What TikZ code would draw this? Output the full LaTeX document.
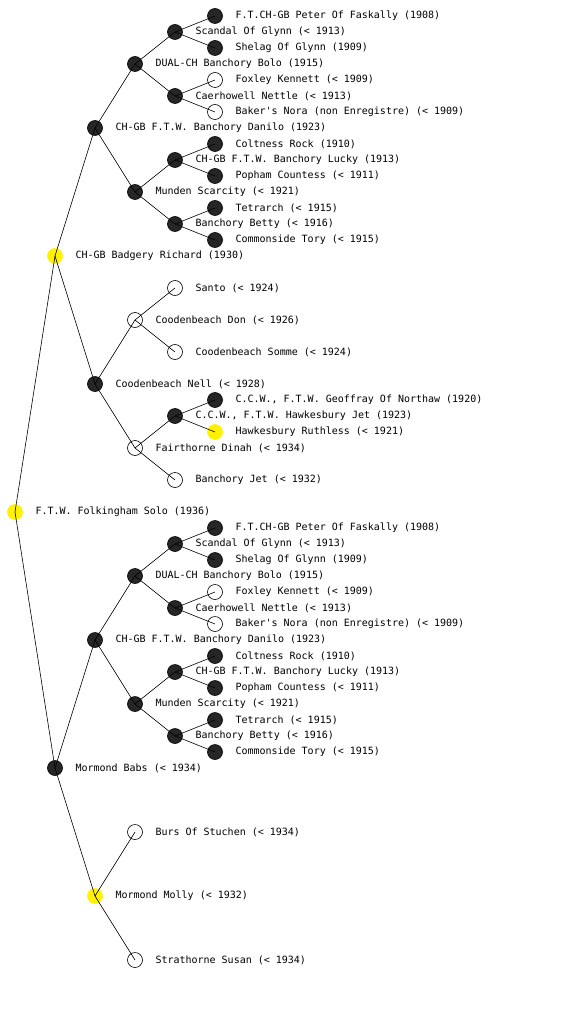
\documentclass[tikz,border=0pt]{standalone}
\usepackage{fontspec}
\newfontfamily\pedfont{DejaVu Sans Mono}

% one dog of the pedigree: style, name, x, y, text
\newcommand\dog[5]{\node[#1,label={right:{#5}}] (#2) at (#3,#4) {};}

% the Danilo branch appears twice
\newcommand\danilotree[2]{%
  \begin{scope}[yshift=#2]
    \dog{blk}{#1dan}{95}{128}{CH-GB F.T.W. Banchory Danilo (1923)}
    \dog{blk}{#1bolo}{135}{64}{DUAL-CH Banchory Bolo (1915)}
    \dog{blk}{#1scan}{175}{32}{Scandal Of Glynn (< 1913)}
    \dog{blk}{#1pete}{215}{16}{F.T.CH-GB Peter Of Faskally (1908)}
    \dog{blk}{#1shel}{215}{48}{Shelag Of Glynn (1909)}
    \dog{blk}{#1nett}{175}{96}{Caerhowell Nettle (< 1913)}
    \dog{opn}{#1foxl}{215}{80}{Foxley Kennett (< 1909)}
    \dog{opn}{#1nora}{215}{112}{Baker's Nora (non Enregistre) (< 1909)}
    \dog{blk}{#1mund}{135}{192}{Munden Scarcity (< 1921)}
    \dog{blk}{#1luck}{175}{160}{CH-GB F.T.W. Banchory Lucky (1913)}
    \dog{blk}{#1colt}{215}{144}{Coltness Rock (1910)}
    \dog{blk}{#1poph}{215}{176}{Popham Countess (< 1911)}
    \dog{blk}{#1bett}{175}{224}{Banchory Betty (< 1916)}
    \dog{blk}{#1tetr}{215}{208}{Tetrarch (< 1915)}
    \dog{blk}{#1tory}{215}{240}{Commonside Tory (< 1915)}
    \foreach \a/\b in {dan/bolo,dan/mund,bolo/scan,bolo/nett,scan/pete,scan/shel,
      nett/foxl,nett/nora,mund/luck,mund/bett,luck/colt,luck/poph,bett/tetr,bett/tory}
      \draw[edge] (#1\a.center) -- (#1\b.center);
  \end{scope}}

\begin{document}
\begin{tikzpicture}[x=1pt,y=-1pt,label distance=12.5pt,
  dog/.style={circle,minimum size=15pt,inner sep=0pt,draw=black,line width=0.6pt},
  blk/.style={dog,fill=black!85},
  opn/.style={dog},
  ylw/.style={dog,draw=yellow,fill=yellow},
  edge/.style={line width=0.6pt},
  every label/.style={font=\pedfont\fontsize{10}{12}\selectfont,inner sep=0pt}]
  \useasboundingbox (0,0) rectangle (560,1024);

  \dog{ylw}{solo}{15}{512}{F.T.W. Folkingham Solo (1936)}
  % sire side
  \dog{ylw}{rich}{55}{256}{CH-GB Badgery Richard (1930)}
  \danilotree{s}{0pt}
  \dog{blk}{nell}{95}{384}{Coodenbeach Nell (< 1928)}
  \dog{opn}{don}{135}{320}{Coodenbeach Don (< 1926)}
  \dog{opn}{sant}{175}{288}{Santo (< 1924)}
  \dog{opn}{somm}{175}{352}{Coodenbeach Somme (< 1924)}
  \dog{opn}{dina}{135}{448}{Fairthorne Dinah (< 1934)}
  \dog{blk}{hjet}{175}{416}{C.C.W., F.T.W. Hawkesbury Jet (1923)}
  \dog{blk}{geof}{215}{400}{C.C.W., F.T.W. Geoffray Of Northaw (1920)}
  \dog{ylw}{ruth}{215}{432}{Hawkesbury Ruthless (< 1921)}
  \dog{opn}{bjet}{175}{480}{Banchory Jet (< 1932)}
  % dam side
  \dog{blk}{babs}{55}{768}{Mormond Babs (< 1934)}
  \danilotree{d}{-512pt}
  \dog{ylw}{moll}{95}{896}{Mormond Molly (< 1932)}
  \dog{opn}{burs}{135}{832}{Burs Of Stuchen (< 1934)}
  \dog{opn}{susa}{135}{960}{Strathorne Susan (< 1934)}

  \foreach \a/\b in {solo/rich,solo/babs,rich/sdan,rich/nell,nell/don,nell/dina,
    don/sant,don/somm,dina/hjet,dina/bjet,hjet/geof,hjet/ruth,
    babs/ddan,babs/moll,moll/burs,moll/susa}
    \draw[edge] (\a.center) -- (\b.center);
\end{tikzpicture}
\end{document}
